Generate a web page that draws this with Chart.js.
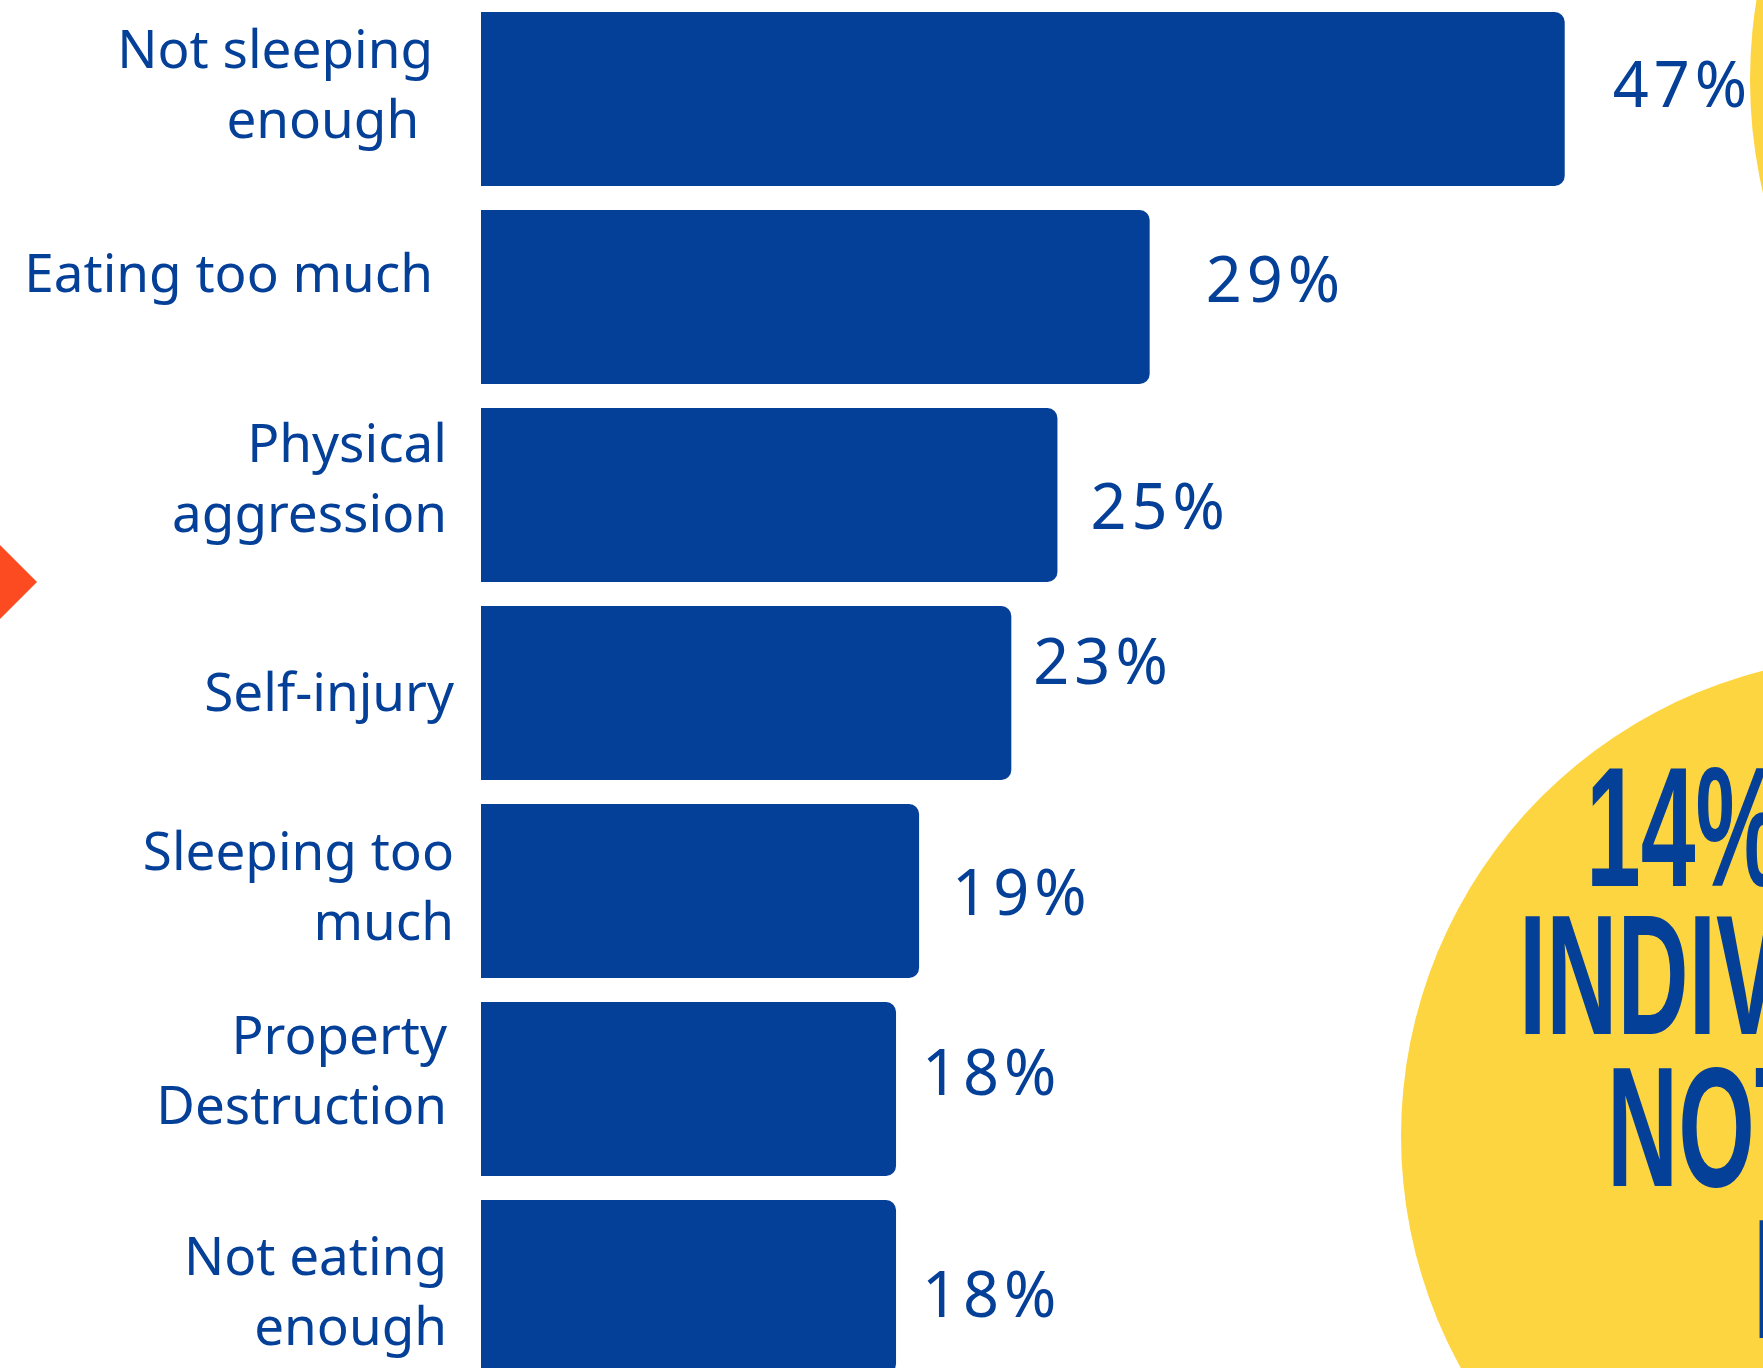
<!DOCTYPE html>
<html>
<head>
<meta charset="utf-8">
<script src="https://cdn.jsdelivr.net/npm/chart.js@4.4.1/dist/chart.umd.min.js"></script>
<style>
  html, body { margin: 0; padding: 0; background: #fff; overflow: hidden; }
  #chart { display: block; }
</style>
</head>
<body>
<canvas id="chart" width="1763" height="1386"></canvas>
<script>
// ===== Data
const categories = [
  ['Not sleeping', 'enough '],
  ['Eating too much'],
  ['Physical', 'aggression'],
  ['Self-injury'],
  ['Sleeping too', 'much'],
  ['Property', 'Destruction'],
  ['Not eating', 'enough']
];
const shares = [47, 29, 25, 23, 19, 18, 18];

const calloutLines = ['14%', 'INDIV', 'NOT', 'I'];

// ===== Look
const BLUE = '#043f98';
const YELLOW = '#fdd541';
const ORANGE = '#fc4b21';
const LINE = 70;

// label nudges (px): gap left of the bar start, first baseline offset from bar centre
const labelGap = [48, 48, 34, 27, 27, 34, 34];
const labelDy  = [-31, -5, -33, 18, -21, -35, -12];
// value label nudges: gap after bar end, baseline offset from bar centre
const valueDx = [48, 56, 33, 22, 33, 26, 26];
const valueDy = [8, 5, 34, -9, 24, 6, 30];
// callout text placement
const calloutX    = [1586, 1519, 1607, 1753];
const calloutBase = [886, 1034, 1186, 1338];

// background shapes + the yellow callout
const decor = {
  id: 'decor',
  beforeDraw(chart) {
    const c = chart.ctx;
    c.save();
    c.fillStyle = YELLOW;
    c.beginPath(); c.arc(2250, 80, 500, 0, Math.PI * 2); c.fill();
    c.beginPath(); c.arc(1881, 1136, 480, 0, Math.PI * 2); c.fill();

    c.fillStyle = ORANGE;
    c.beginPath();
    c.moveTo(0, 545); c.lineTo(37, 582); c.lineTo(0, 619);
    c.closePath(); c.fill();

    c.fillStyle = BLUE;
    c.textAlign = 'left';
    c.textBaseline = 'alphabetic';
    c.font = 'bold 170px "Liberation Sans Narrow", "Liberation Sans", sans-serif';
    const sx = 197 / c.measureText('INDI').width; // squeeze into a condensed look
    calloutLines.forEach((t, i) => {
      c.save();
      c.translate(calloutX[i], calloutBase[i]);
      c.scale(sx, 1);
      c.fillText(t, 0, 0);
      c.restore();
    });
    c.restore();
  }
};

// category names on the left, percentages after each bar
const barText = {
  id: 'barText',
  afterDatasetsDraw(chart) {
    const c = chart.ctx;
    const y = chart.scales.y;
    const x0 = chart.chartArea.left;
    const bars = chart.getDatasetMeta(0).data;
    c.save();
    c.fillStyle = BLUE;
    c.textBaseline = 'alphabetic';

    c.font = '53px "Noto Sans"';
    c.textAlign = 'right';
    categories.forEach((lines, i) => {
      const yc = y.getPixelForValue(i);
      lines.forEach((t, j) => c.fillText(t, x0 - labelGap[i], yc + labelDy[i] + j * LINE));
    });

    c.font = '63px "Noto Sans"';
    c.letterSpacing = '5px';
    c.textAlign = 'left';
    bars.forEach((bar, i) => {
      c.fillText(shares[i] + '%', bar.x + valueDx[i], bar.y + valueDy[i]);
    });
    c.restore();
  }
};

new Chart(document.getElementById('chart'), {
  type: 'bar',
  data: {
    labels: categories,
    datasets: [{
      data: shares,
      backgroundColor: BLUE,
      borderRadius: 10,
      borderSkipped: 'start',
      barPercentage: 174 / 198,
      categoryPercentage: 1
    }]
  },
  options: {
    indexAxis: 'y',
    responsive: false,
    animation: false,
    layout: { padding: { left: 481, right: 0, top: 0, bottom: 0 } },
    scales: {
      x: { display: false, min: 0, max: 55.6 },
      y: { display: false }
    },
    plugins: {
      legend: { display: false },
      tooltip: { enabled: false }
    }
  },
  plugins: [decor, barText]
});
</script>
</body>
</html>
